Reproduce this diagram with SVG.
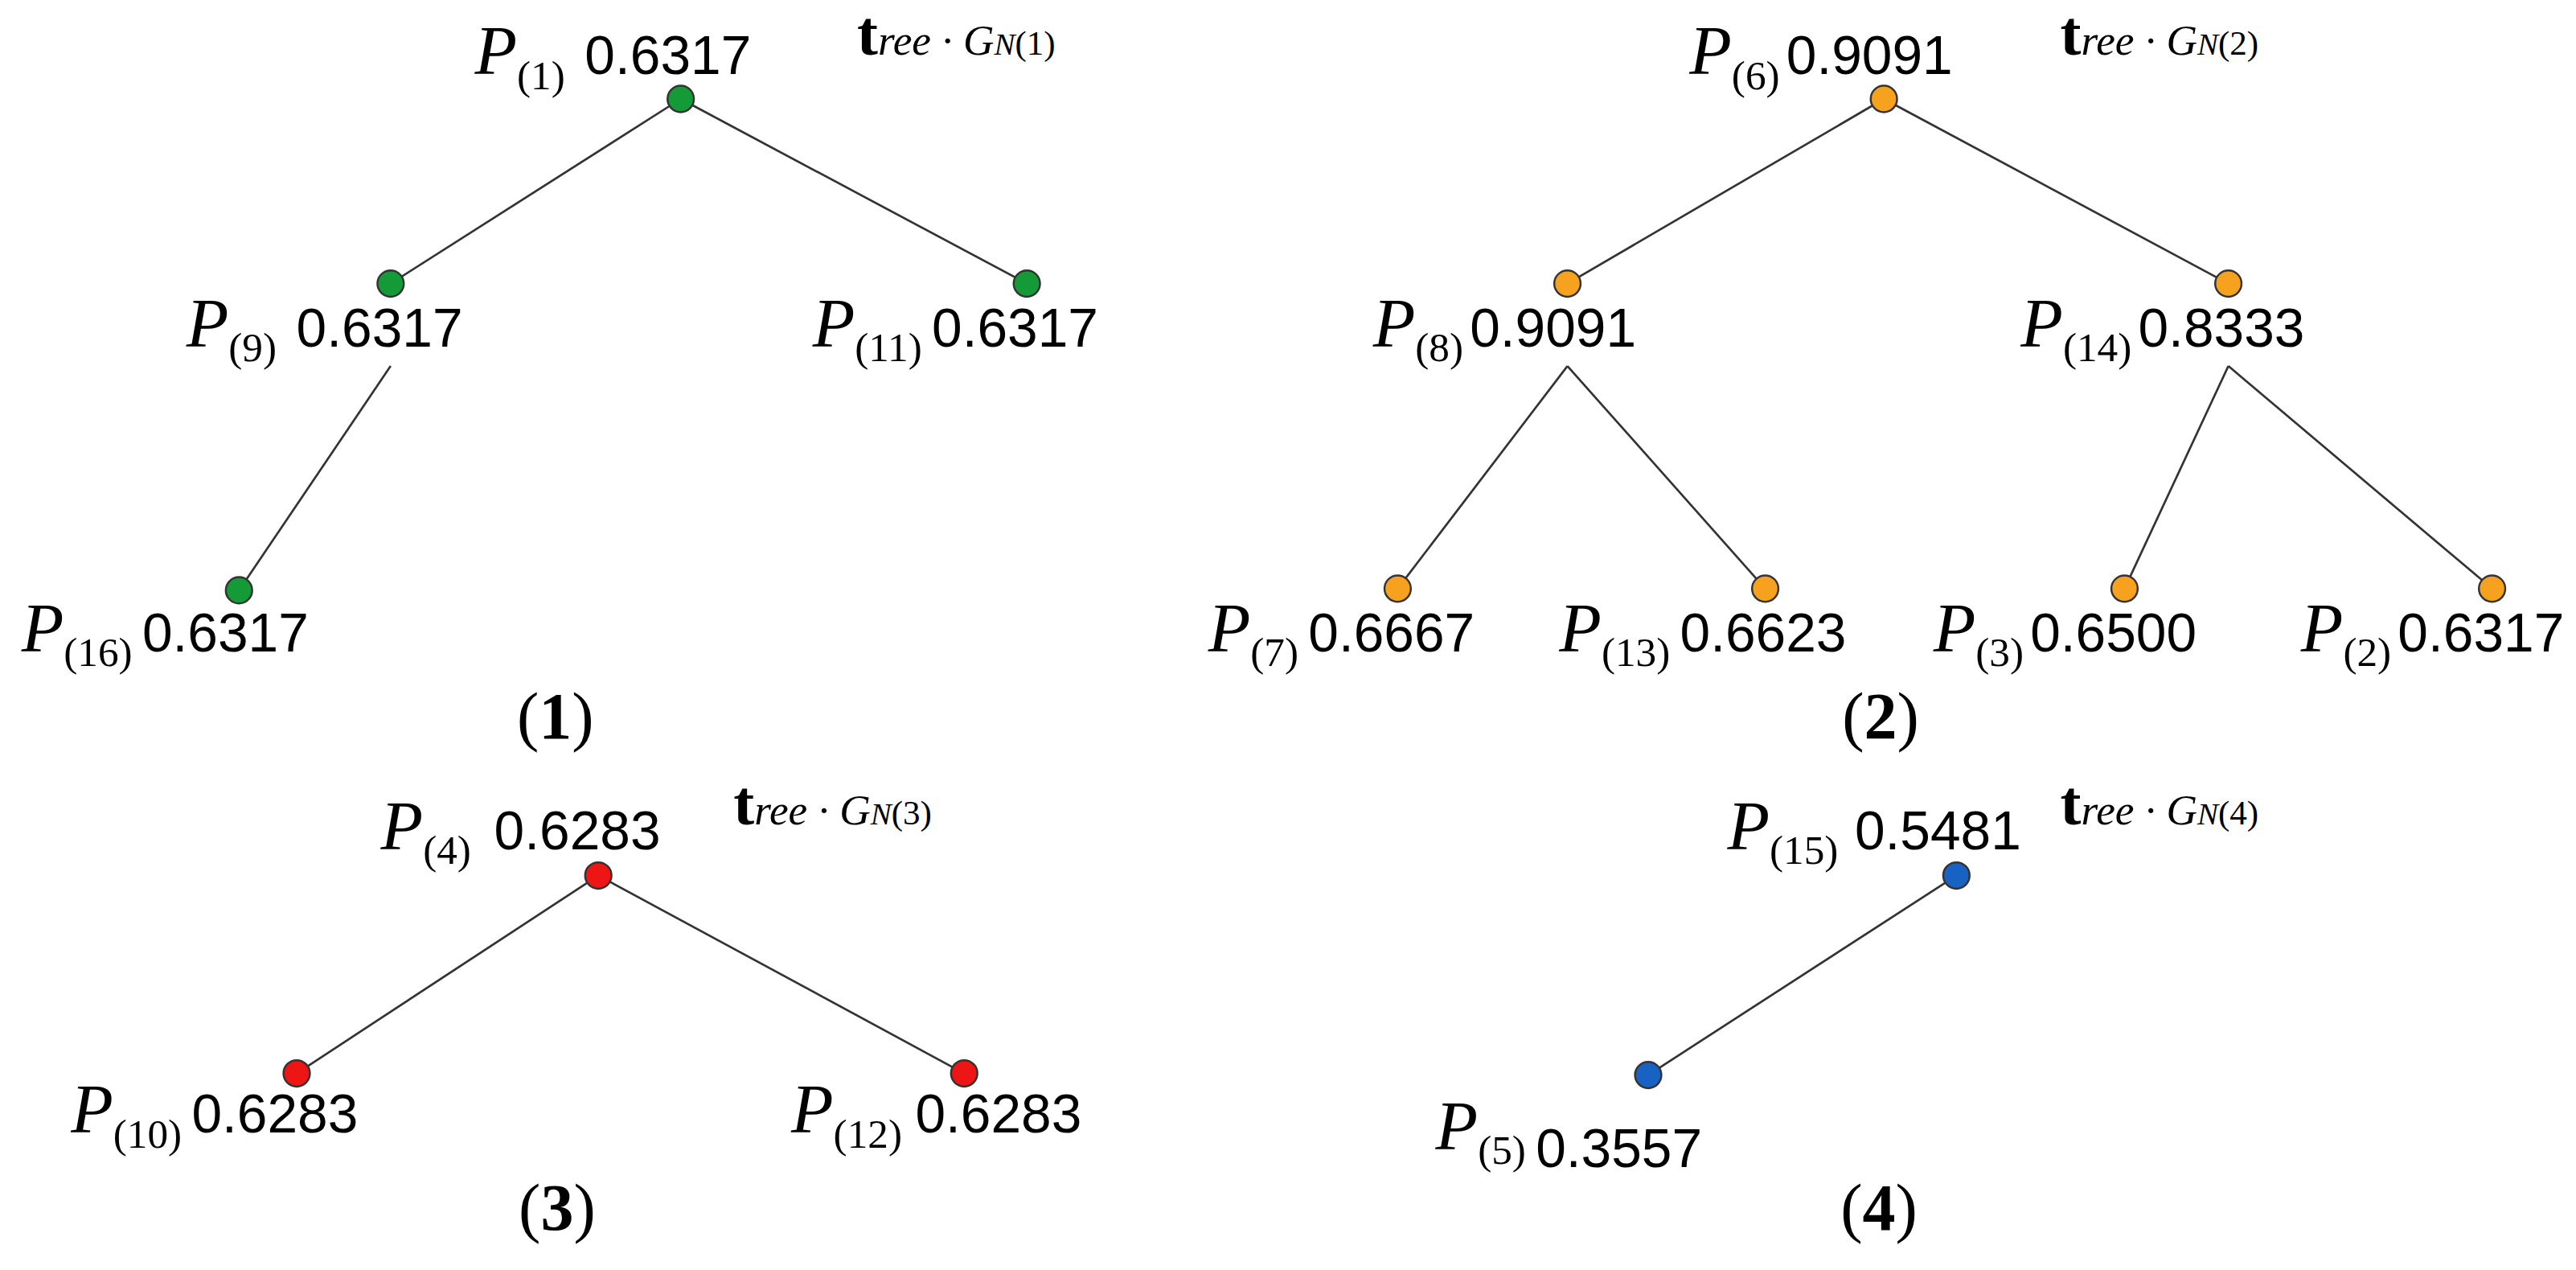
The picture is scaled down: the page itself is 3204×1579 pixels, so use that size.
<svg xmlns="http://www.w3.org/2000/svg" width="3204" height="1579" viewBox="0 0 3204 1579">
<style>
.P{font-family:"Liberation Serif",serif;font-style:italic;font-size:42px}
.s{font-family:"Liberation Serif",serif;font-style:normal;font-size:25px}
.v{font-family:"Liberation Sans",sans-serif;font-size:33px}
.t{font-family:"Liberation Serif",serif;font-size:26px;font-style:italic}
.tb{font-weight:bold;font-style:normal;font-size:38px}
.cap{font-family:"Liberation Serif",serif;font-size:40px;text-anchor:middle}
.e{stroke:#333;stroke-width:1.3;fill:none}
.n{stroke:#333;stroke-width:1.2}
.g{fill:#149a36}.o{fill:#f6a21f}.r{fill:#ee1515}.b{fill:#1762c2}
</style>
<rect width="3204" height="1579" fill="#fff"/>
<g transform="scale(2.05)">
<g id="connectors">
<line class="e" x1="413" y1="60" x2="237" y2="172"/>
<line class="e" x1="413" y1="60" x2="623" y2="172"/>
<line class="e" x1="237" y1="222" x2="145" y2="358"/>
<line class="e" x1="1143" y1="60" x2="951" y2="172"/>
<line class="e" x1="1143" y1="60" x2="1352" y2="172"/>
<line class="e" x1="951" y1="222" x2="848" y2="357"/>
<line class="e" x1="951" y1="222" x2="1071" y2="357"/>
<line class="e" x1="1352" y1="222" x2="1289" y2="357"/>
<line class="e" x1="1352" y1="222" x2="1512" y2="357"/>
<line class="e" x1="363" y1="531" x2="180" y2="651"/>
<line class="e" x1="363" y1="531" x2="585" y2="651"/>
<line class="e" x1="1187" y1="531" x2="1000" y2="652"/>
</g>
<g id="n1"><circle class="n g" cx="413" cy="60" r="8"/><text x="288" y="45"><tspan class="P">P</tspan><tspan class="s" dy="9">(1)</tspan><tspan class="v" dx="12" dy="-9">0.6317</tspan></text>
<text class="t" x="520" y="33"><tspan class="tb">t</tspan>ree · G<tspan font-size="19">N</tspan><tspan font-style="normal" font-size="21">(1)</tspan></text></g>
<g id="n9"><circle class="n g" cx="237" cy="172" r="8"/><text x="113" y="210"><tspan class="P">P</tspan><tspan class="s" dy="9">(9)</tspan><tspan class="v" dx="12" dy="-9">0.6317</tspan></text></g>
<g id="n11"><circle class="n g" cx="623" cy="172" r="8"/><text x="493" y="210"><tspan class="P">P</tspan><tspan class="s" dy="9">(11)</tspan><tspan class="v" dx="6" dy="-9">0.6317</tspan></text></g>
<g id="n16"><circle class="n g" cx="145" cy="358" r="8"/><text x="13" y="395"><tspan class="P">P</tspan><tspan class="s" dy="9">(16)</tspan><tspan class="v" dx="6" dy="-9">0.6317</tspan></text></g>
<text class="cap" x="337" y="448">(<tspan font-weight="bold">1</tspan>)</text>

<g id="n6"><circle class="n o" cx="1143" cy="60" r="8"/><text x="1025" y="45"><tspan class="P">P</tspan><tspan class="s" dy="9">(6)</tspan><tspan class="v" dx="4" dy="-9">0.9091</tspan></text>
<text class="t" x="1250" y="33"><tspan class="tb">t</tspan>ree · G<tspan font-size="19">N</tspan><tspan font-style="normal" font-size="21">(2)</tspan></text></g>
<g id="n8"><circle class="n o" cx="951" cy="172" r="8"/><text x="833" y="210"><tspan class="P">P</tspan><tspan class="s" dy="9">(8)</tspan><tspan class="v" dx="4" dy="-9">0.9091</tspan></text></g>
<g id="n14"><circle class="n o" cx="1352" cy="172" r="8"/><text x="1226" y="210"><tspan class="P">P</tspan><tspan class="s" dy="9">(14)</tspan><tspan class="v" dx="4" dy="-9">0.8333</tspan></text></g>
<g id="n7"><circle class="n o" cx="848" cy="357" r="8"/><text x="733" y="395"><tspan class="P">P</tspan><tspan class="s" dy="9">(7)</tspan><tspan class="v" dx="6" dy="-9">0.6667</tspan></text></g>
<g id="n13"><circle class="n o" cx="1071" cy="357" r="8"/><text x="946" y="395"><tspan class="P">P</tspan><tspan class="s" dy="9">(13)</tspan><tspan class="v" dx="6" dy="-9">0.6623</tspan></text></g>
<g id="n3"><circle class="n o" cx="1289" cy="357" r="8"/><text x="1173" y="395"><tspan class="P">P</tspan><tspan class="s" dy="9">(3)</tspan><tspan class="v" dx="4" dy="-9">0.6500</tspan></text></g>
<g id="n2"><circle class="n o" cx="1512" cy="357" r="8"/><text x="1396" y="395"><tspan class="P">P</tspan><tspan class="s" dy="9">(2)</tspan><tspan class="v" dx="4" dy="-9">0.6317</tspan></text></g>
<text class="cap" x="1141" y="448">(<tspan font-weight="bold">2</tspan>)</text>

<g id="n4"><circle class="n r" cx="363" cy="531" r="8"/><text x="231" y="515"><tspan class="P">P</tspan><tspan class="s" dy="9">(4)</tspan><tspan class="v" dx="14" dy="-9">0.6283</tspan></text>
<text class="t" x="445" y="500"><tspan class="tb">t</tspan>ree · G<tspan font-size="19">N</tspan><tspan font-style="normal" font-size="21">(3)</tspan></text></g>
<g id="n10"><circle class="n r" cx="180" cy="651" r="8"/><text x="43" y="687"><tspan class="P">P</tspan><tspan class="s" dy="9">(10)</tspan><tspan class="v" dx="6" dy="-9">0.6283</tspan></text></g>
<g id="n12"><circle class="n r" cx="585" cy="651" r="8"/><text x="480" y="687"><tspan class="P">P</tspan><tspan class="s" dy="9">(12)</tspan><tspan class="v" dx="8" dy="-9">0.6283</tspan></text></g>
<text class="cap" x="338" y="746">(<tspan font-weight="bold">3</tspan>)</text>

<g id="n15"><circle class="n b" cx="1187" cy="531" r="8"/><text x="1048" y="515"><tspan class="P">P</tspan><tspan class="s" dy="9">(15)</tspan><tspan class="v" dx="10" dy="-9">0.5481</tspan></text>
<text class="t" x="1250" y="500"><tspan class="tb">t</tspan>ree · G<tspan font-size="19">N</tspan><tspan font-style="normal" font-size="21">(4)</tspan></text></g>
<g id="n5"><circle class="n b" cx="1000" cy="652" r="8"/><text x="871" y="697"><tspan class="P">P</tspan><tspan class="s" dy="9">(5)</tspan><tspan class="v" dx="6" dy="2">0.3557</tspan></text></g>
<text class="cap" x="1140" y="746">(<tspan font-weight="bold">4</tspan>)</text>
</g>
</svg>
